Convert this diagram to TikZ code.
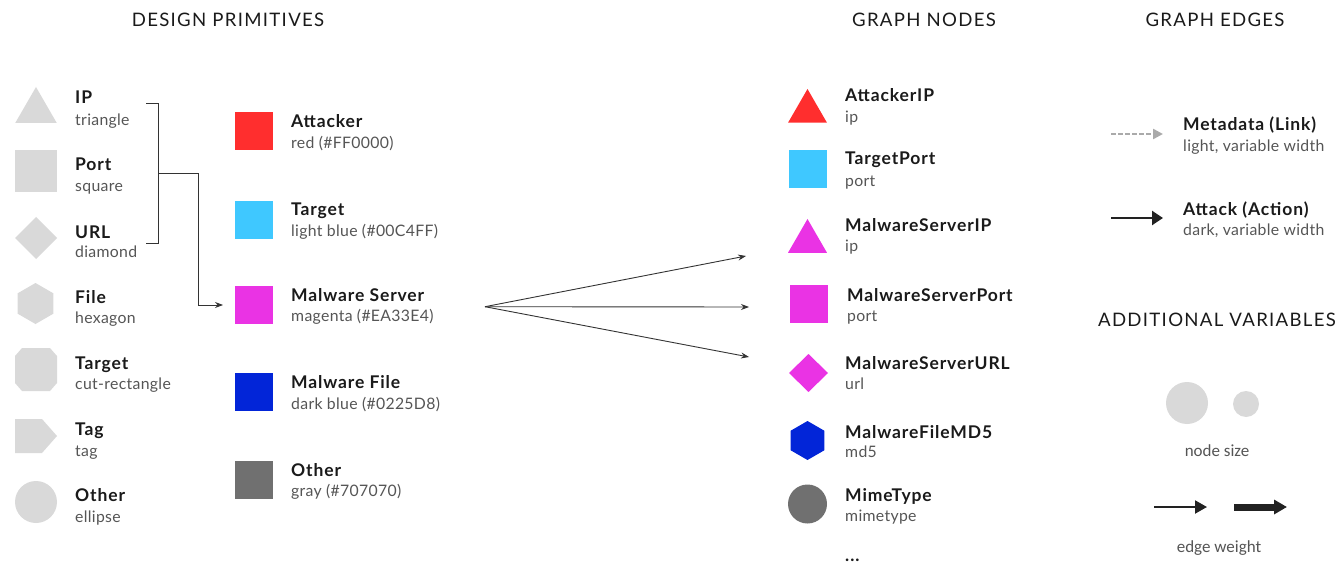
\documentclass[tikz,border=0pt]{standalone}
\usepackage{fontspec}
\setmainfont{Lato}
\newfontfamily\hdrfont{Lato}[LetterSpace=7]
\newfontfamily\ttlfont{Lato}[LetterSpace=5]
\newfontfamily\subfont{Lato}[LetterSpace=2]
\newfontfamily\notefont{Carlito}
\usetikzlibrary{arrows.meta,shapes.geometric}

\definecolor{ink}{HTML}{1A1A1A}
\definecolor{subgray}{HTML}{555555}
\definecolor{primgray}{HTML}{D9D9D9}
\definecolor{wire}{HTML}{333333}
\definecolor{cattack}{HTML}{FF2E2E}
\definecolor{ctarget}{HTML}{3FC8FF}
\definecolor{cserver}{HTML}{EA33E4}
\definecolor{cfile}{HTML}{0225D8}
\definecolor{cother}{HTML}{707070}
\definecolor{linkgray}{HTML}{AAAAAA}
\definecolor{actink}{HTML}{222222}

\tikzset{
  hdr/.style={anchor=base, inner sep=0pt, font=\hdrfont\fontsize{18.6}{18.6}\selectfont, text=ink},
  ttl/.style={anchor=base west, inner sep=0pt, font=\ttlfont\bfseries\fontsize{17.5}{17.5}\selectfont, text=ink},
  sub/.style={anchor=base west, inner sep=0pt, font=\subfont\fontsize{15.8}{15.8}\selectfont, text=subgray},
  note/.style={anchor=base, inner sep=0pt, font=\notefont\fontsize{17}{17}\selectfont, text=subgray},
  shp/.style={inner sep=0pt, outer sep=0pt, draw=none},
  swatch/.style={shp, rectangle, minimum size=38pt},
  tri/.style={shp, regular polygon, regular polygon sides=3},
  hex/.style={shp, regular polygon, regular polygon sides=6, shape border rotate=30},
  dia/.style={shp, diamond},
  conn/.style={draw=wire, line width=0.9pt},
  fanarrow/.style={conn, -{Stealth[length=8pt,width=6pt]}},
}

\begin{document}
\begin{tikzpicture}[x=1pt, y=-1pt]
\useasboundingbox (0,0) rectangle (1341,564);

% ---------- headings ----------
\node[hdr] (hPrim)  at (228,26.5)  {DESIGN PRIMITIVES};
\node[hdr] (hNodes) at (924,26.5)  {GRAPH NODES};
\node[hdr] (hEdges) at (1215,26.5) {GRAPH EDGES};
\node[hdr] (hVars)  at (1217,326.5) {ADDITIONAL VARIABLES};

% ---------- design primitives: shapes ----------
\node[tri, fill=primgray, minimum size=48pt] (pIP) at (36,111) {};
\node[swatch, fill=primgray, minimum size=42pt] (pPort) at (36,171) {};
\node[dia, fill=primgray, minimum width=42pt, minimum height=42pt] (pURL) at (36,238) {};
\node[hex, fill=primgray, minimum size=41pt] (pFile) at (35.5,303.5) {};
\fill[primgray] (22,348) -- (50,348) -- (57,356) -- (57,383) -- (50,391)
  -- (22,391) -- (15,383) -- (15,356) -- cycle;
\fill[primgray] (15,419) -- (42,419) -- (57,436) -- (42,453) -- (15,453) -- cycle;
\node[shp, circle, fill=primgray, minimum size=42pt] (pOther) at (36,502) {};

% ---------- design primitives: labels ----------
\node[ttl] (lIP)    at (75,104)   {IP};
\node[sub]          at (75,125.7) {triangle};
\node[ttl] (lPort)  at (75,171)   {Port};
\node[sub]          at (75,191.7) {square};
\node[ttl] (lURL)   at (75,238)   {URL};
\node[sub]          at (75,257.7) {diamond};
\node[ttl]          at (75,303)   {File};
\node[sub]          at (75,323.7) {hexagon};
\node[ttl]          at (75,369)   {Target};
\node[sub]          at (75,389.7) {cut-rectangle};
\node[ttl]          at (75,435)   {Tag};
\node[sub]          at (75,456.7) {tag};
\node[ttl]          at (75,501)   {Other};
\node[sub]          at (75,522.7) {ellipse};

% ---------- colour swatches ----------
\node[swatch, fill=cattack] (sAtt)  at (254,131.5) {};
\node[swatch, fill=ctarget] (sTgt)  at (254,220)   {};
\node[swatch, fill=cserver] (sSrv)  at (254,305)   {};
\node[swatch, fill=cfile]   (sFile) at (254,392)   {};
\node[swatch, fill=cother]  (sOth)  at (254,480)   {};

\node[ttl] at (291,128)   {Attacker};
\node[sub] at (291,148.7) {red (\#FF0000)};
\node[ttl] at (291,216)   {Target};
\node[sub] at (291,236.7) {light blue (\#00C4FF)};
\node[ttl] at (291,301)   {Malware Server};
\node[sub] at (291,321.7) {magenta (\#EA33E4)};
\node[ttl] at (291,388)   {Malware File};
\node[sub] at (291,409.7) {dark blue (\#0225D8)};
\node[ttl] at (291,476)   {Other};
\node[sub] at (291,496.7) {gray (\#707070)};

% ---------- bracket grouping IP / Port / URL ----------
\coordinate (brTop) at (146,103);
\coordinate (brBot) at (146,243);
\coordinate (brMid) at (158,173);
\draw[conn] (brTop) -- ++(12,0) |- (brBot);
\draw[fanarrow, shorten >=12pt] (brMid) -| ([xshift=-37pt]sSrv.west) -- (sSrv.west);

% ---------- fan towards graph nodes ----------
\coordinate (fan) at (485,306.7);
\coordinate (fanA) at (746,256);
\coordinate (fanB) at (749,307);
\coordinate (fanC) at (749,357);
\draw[fanarrow] (fan) -- (fanA);
\draw[fanarrow] (fan) -- (fanB);
\draw[fanarrow] (fan) -- (fanC);

% ---------- graph nodes ----------
\node[tri, fill=cattack, minimum size=45pt] (gAttIP) at (807.5,111.5) {};
\node[swatch, fill=ctarget] (gTgtPort) at (808,169) {};
\node[tri, fill=cserver, minimum size=45pt] (gSrvIP) at (807.5,241.5) {};
\node[swatch, fill=cserver] (gSrvPort) at (808.5,304) {};
\node[dia, fill=cserver, minimum width=39pt, minimum height=38pt] (gSrvURL) at (808.5,373) {};
\node[hex, fill=cfile, minimum size=39pt] (gMD5) at (807.5,440.5) {};
\node[shp, circle, fill=cother, minimum size=39pt] (gMime) at (807.5,504) {};

\node[ttl] at (845,102)   {AttackerIP};
\node[sub] at (845,122.7) {ip};
\node[ttl] at (845,165)   {TargetPort};
\node[sub] at (845,186.7) {port};
\node[ttl] at (845,231)   {MalwareServerIP};
\node[sub] at (845,251.7) {ip};
\node[ttl] at (847,301)   {MalwareServerPort};
\node[sub] at (847,321.7) {port};
\node[ttl] at (845,369)   {MalwareServerURL};
\node[sub] at (845,389.7) {url};
\node[ttl] at (845,438)   {MalwareFileMD5};
\node[sub] at (845,457.7) {md5};
\node[ttl] at (845,501)   {MimeType};
\node[sub] at (845,521.7) {mimetype};
\node[ttl] at (845,561.5) {...};

% ---------- graph edges ----------
\coordinate (mdA) at (1111,134);
\coordinate (mdB) at (1163,134);
\coordinate (atA) at (1111,218);
\coordinate (atB) at (1163,218);
\draw[draw=linkgray, line width=2.4pt, dash pattern=on 4.5pt off 2.5pt,
      -{Triangle[length=10pt,width=10pt,fill=linkgray]}] (mdA) -- (mdB);
\draw[draw=actink, line width=2.4pt, -{Triangle[length=11pt,width=14pt]}] (atA) -- (atB);

\node[ttl] at (1183,131)   {Metadata (Link)};
\node[sub] at (1183,151.7) {light, variable width};
\node[ttl] at (1183,215)   {Attack (Action)};
\node[sub] at (1183,235.7) {dark, variable width};

% ---------- additional variables ----------
\node[shp, circle, fill=primgray, minimum size=42pt] (bigDot) at (1187,403) {};
\node[shp, circle, fill=primgray, minimum size=26pt] (smallDot) at (1246,404) {};
\node[note] at (1217,456) {node size};

\coordinate (thinA) at (1154,507);
\coordinate (thinB) at (1207,507);
\coordinate (thickA) at (1234,507);
\coordinate (thickB) at (1287,507);
\draw[draw=actink, line width=2pt, -{Triangle[length=12pt,width=13pt]}] (thinA) -- (thinB);
\draw[draw=actink, line width=7pt, -{Triangle[length=13pt,width=14pt]}] (thickA) -- (thickB);
\node[note] at (1219,552) {edge weight};

\end{tikzpicture}
\end{document}
